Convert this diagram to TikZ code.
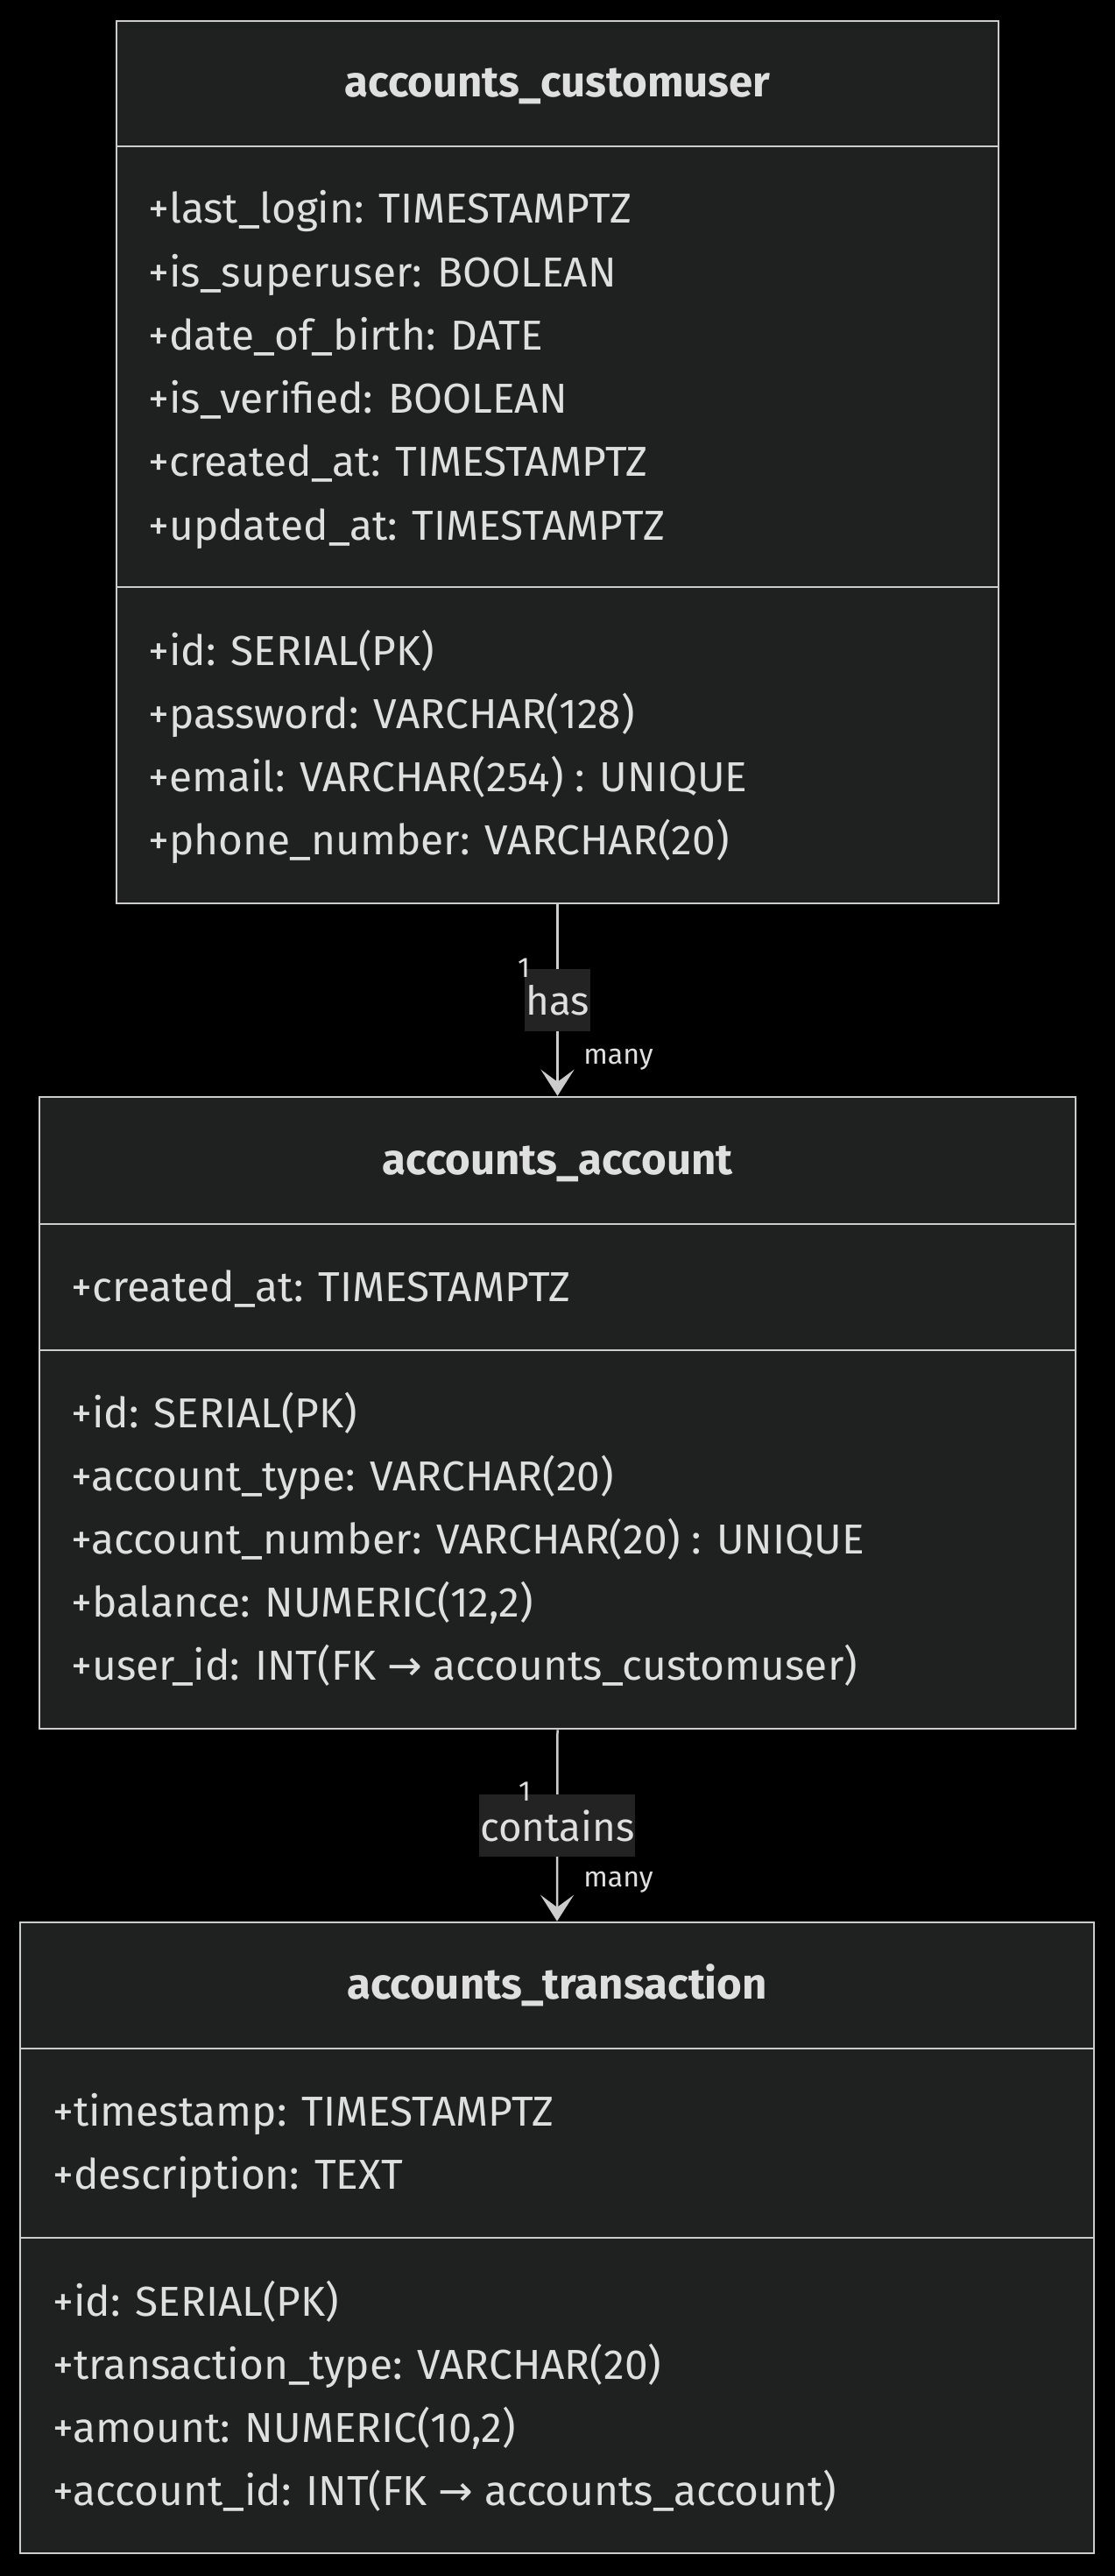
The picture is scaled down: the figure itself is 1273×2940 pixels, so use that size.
\documentclass[tikz,border=0pt]{standalone}
\usepackage{fontspec}
\setmainfont{Fira Sans}
\newfontfamily\symfont{DejaVu Sans}
\usetikzlibrary{arrows.meta,fit}

\definecolor{boxfill}{HTML}{1F2020}
\definecolor{boxline}{HTML}{CCCCCC}
\definecolor{txt}{HTML}{E0DFDF}
\definecolor{lblfill}{HTML}{232323}
\newcommand{\fk}{{\symfont\fontsize{27}{30}\selectfont →}}

\begin{document}
\begin{tikzpicture}[x=0.02cm, y=-0.02cm,
    cls/.style={draw=boxline, fill=boxfill, line width=0.05cm, inner sep=0pt},
    sep/.style={draw=boxline, line width=0.05cm},
    title/.style={anchor=base, text=txt, inner sep=0pt, font=\fontsize{28}{32}\selectfont\bfseries},
    row/.style={anchor=base west, text=txt, inner sep=0pt, font=\fontsize{27.2}{31}\selectfont},
    rel/.style={draw=boxline, line width=0.05cm, -{Stealth[length=0.6cm, width=0.76cm, inset=0.28cm]}},
    lbl/.style={fill=lblfill, text=txt, inner xsep=0.02cm, minimum height=1.42cm, font=\fontsize{26}{30}\selectfont},
    card/.style={text=txt, inner sep=0pt, font=\fontsize{18.3}{21}\selectfont}]

    \fill[black] (0,0) rectangle (1273,2940);
    \useasboundingbox (0,0) rectangle (1273,2940);

    \node[cls, fit={(133,24) (1140,1031)}] (user) {};
    \draw[sep] (user.west |- 0,167) -- (user.east |- 0,167) (user.west |- 0,670) -- (user.east |- 0,670);
    \node[title] (usert) at (636.5,111) {accounts\_customuser};
    \foreach \t [count=\i from 0] in {+last\_login: TIMESTAMPTZ, +is\_superuser: BOOLEAN,
        +date\_of\_birth: DATE, +is\_verified: BOOLEAN, +created\_at: TIMESTAMPTZ, +updated\_at: TIMESTAMPTZ}
        \node[row] (ua\i) at (169,{255+72.2*\i}) {\t};
    \foreach \t [count=\i from 0] in {+id: SERIAL(PK), +password: VARCHAR(128),
        +email: VARCHAR(254) : UNIQUE, +phone\_number: VARCHAR(20)}
        \node[row] (um\i) at (169,{759+72.2*\i}) {\t};

    \node[cls, fit={(45,1252) (1228,1973)}] (account) {};
    \draw[sep] (account.west |- 0,1397) -- (account.east |- 0,1397) (account.west |- 0,1541) -- (account.east |- 0,1541);
    \node[title] (accountt) at (636.5,1340) {accounts\_account};
    \node[row] (aa0) at (81,1485) {+created\_at: TIMESTAMPTZ};
    \foreach \t [count=\i from 0] in {+id: SERIAL(PK), +account\_type: VARCHAR(20),
        +account\_number: VARCHAR(20) : UNIQUE, {+balance: NUMERIC(12,2)}, +user\_id: INT(FK \fk{} accounts\_customuser)}
        \node[row] (am\i) at (81,{1629+72.2*\i}) {\t};

    \node[cls, fit={(23,2194) (1249,2914)}] (transaction) {};
    \draw[sep] (transaction.west |- 0,2338) -- (transaction.east |- 0,2338) (transaction.west |- 0,2554) -- (transaction.east |- 0,2554);
    \node[title] (transactiont) at (636,2281) {accounts\_transaction};
    \foreach \t [count=\i from 0] in {+timestamp: TIMESTAMPTZ, +description: TEXT}
        \node[row] (ta\i) at (60,{2426+72.2*\i}) {\t};
    \foreach \t [count=\i from 0] in {+id: SERIAL(PK), +transaction\_type: VARCHAR(20),
        {+amount: NUMERIC(10,2)}, +account\_id: INT(FK \fk{} accounts\_account)}
        \node[row] (tm\i) at (60,{2643+72.2*\i}) {\t};

    \draw[rel] (user.south) -- node[lbl] (has) {has} (account.north);
    \node[card] (has1) at (598,1105) {1};
    \node[card] (hasn) at (706,1209) {many};

    \draw[rel] (account.south) -- node[lbl] (contains) {contains} (transaction.north);
    \node[card] (contains1) at (599,2045) {1};
    \node[card] (containsn) at (706,2148) {many};
\end{tikzpicture}
\end{document}
